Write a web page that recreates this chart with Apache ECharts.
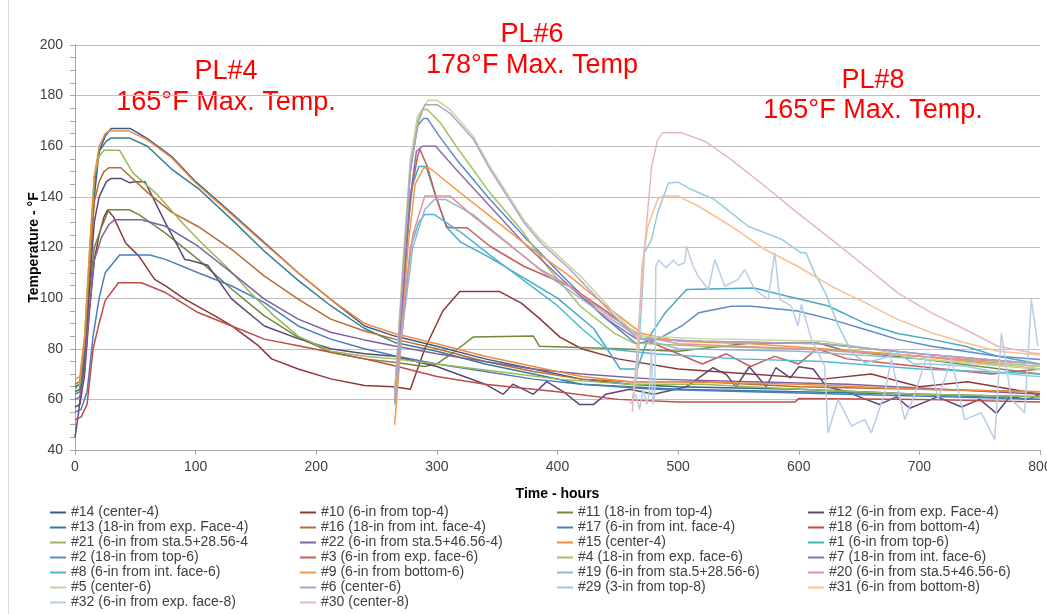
<!DOCTYPE html>
<html><head><meta charset="utf-8">
<script src="https://cdn.jsdelivr.net/npm/echarts@6/dist/echarts.min.js"></script>
<style>html,body{margin:0;padding:0;background:#fff}#c{width:1047px;height:614px}</style>
</head><body><div id="c"></div>
<script>
// ---- series names in legend order ----
const names = ["#14 (center-4)","#10 (6-in from top-4)","#11 (18-in from top-4)","#12 (6-in from exp. Face-4)",
"#13 (18-in from exp. Face-4)","#16 (18-in from int. face-4)","#17 (6-in from int. face-4)","#18 (6-in from bottom-4)",
"#21 (6-in from sta.5+28.56-4","#22 (6-in from sta.5+46.56-4)","#15 (center-4)","#1 (6-in from top-6)",
"#2 (18-in from top-6)","#3 (6-in from exp. face-6)","#4 (18-in from exp. face-6)","#7 (18-in from int. face-6)",
"#8 (6-in from int. face-6)","#9 (6-in from bottom-6)","#19 (6-in from sta.5+28.56-6)","#20 (6-in from sta.5+46.56-6)",
"#5 (center-6)","#6 (center-6)","#29 (3-in from top-8)","#31 (6-in from bottom-8)","#32 (6-in from exp. face-8)","#30 (center-8)"];

// ---- series values [hours, °F] ----
const s14 = [[0,65],[4,66],[8,80],[12,110],[16,140],[20,158],[25,164],[30,167],[46,167],[60,163],[80,156],[100,146],[130,133.5],[157,122],[185,110],[212,99.5],[240,89],[265,85],[300,81],[340,76],[380,72],[420,68],[460,66],[500,65],[600,64],[700,62],[800,61]];
const s10 = [[0,57],[4,58],[8,70],[12,95],[16,115],[20,125],[24,132],[27,134.9],[32,132],[42,121.8],[53,116.6],[66,107.4],[75,104.8],[91,99.6],[116,93],[130,89],[152,81.2],[163,76],[185,72],[212,68.1],[240,65.5],[264,65],[278,64],[290,80],[305,95],[319,102.6],[352,102.6],[370,98],[385,92],[402,84.6],[420,80],[450,76],[500,72],[560,70],[620,68],[660,70],[700,65],[740,67],[800,62]];
const s11 = [[0,62],[4,63],[8,78],[12,102],[16,120],[22,128],[28,134.9],[45,134.9],[53,133],[75,125.7],[102,115.3],[130,103.5],[157,93],[185,84.5],[212,78.6],[240,76],[264,74.7],[290,73],[300,74],[315,79],[330,84.6],[380,85],[385,81],[450,80],[500,79],[560,82.3],[616,82.3],[640,79],[700,76],[800,70]];
const s12 = [[0,45],[3,55],[8,75],[12,105],[16,130],[20,140],[26,146],[30,147.3],[38,147.3],[45,145.6],[50,146],[58,146],[75,129.7],[91,115.3],[95,115],[110,113],[130,99.6],[157,89],[185,84],[212,80],[240,78],[265,77],[300,73],[340,66],[355,62],[363,66],[380,62],[391,67],[405,63],[418,58],[430,58],[440,62],[460,64],[480,62],[507,65],[529,72.5],[540,69.8],[548,65],[559,72.9],[573,65],[581,72.5],[593,68.5],[600,72.9],[612,72],[623,65],[640,63],[653,60.5],[667,58],[681,61],[692,56.5],[715,61],[735,57],[750,60],[764,54.5],[775,61],[790,60],[800,62]];
const s13 = [[0,63],[4,64],[8,80],[12,112],[16,145],[20,158],[26,162],[30,163.3],[45,163.3],[60,160],[80,151],[102,143.4],[130,131],[157,118.5],[185,107],[212,97],[240,88],[265,82.5],[300,79],[340,74],[380,70],[420,66],[500,64],[600,63],[700,62],[800,60]];
const s16 = [[0,66],[4,67],[8,82],[12,112],[16,138],[20,146],[24,150],[28,151.5],[38,151.5],[61,141.4],[80,134],[102,128.3],[130,119.2],[157,108.7],[185,99.6],[212,91.7],[240,87],[265,83.8],[300,80],[340,75],[380,71],[420,68],[460,67],[520,67],[600,65],[700,64],[800,63]];
const s17 = [[0,55],[5,56],[10,63],[15,85],[20,100],[25,110],[37,117],[62,117],[75,115.3],[102,110],[130,104.8],[157,98.2],[185,89],[212,83.8],[240,80],[264,77.3],[300,74],[340,71],[380,68],[420,66],[480,64],[560,63],[640,62],[720,61],[800,60]];
const s18 = [[0,52],[5,53],[10,58],[15,80],[20,90],[25,99],[36,106.1],[55,106.1],[75,102.2],[102,94.3],[130,89],[157,83.8],[185,81.2],[212,78.6],[240,76],[264,73.4],[300,69],[340,66],[400,63],[450,60],[500,59],[597,59],[600,60.3],[700,60],[800,59]];
const s21 = [[0,64],[4,66],[8,85],[12,118],[16,148],[20,156],[24,158.4],[37,158.4],[48,149.5],[68,141],[90,129.2],[106,121.3],[126,112.2],[145,102.3],[165,93],[185,85],[212,79],[240,77],[265,76],[300,74],[350,71],[400,68],[460,66],[520,66],[600,64],[700,62],[800,61]];
const s22 = [[0,60],[4,61],[8,72],[12,96],[16,115],[22,124],[28,129],[33,131],[55,131],[75,128.4],[102,120.5],[130,110],[157,99.6],[185,91.7],[212,86.5],[240,83.5],[264,81.2],[300,78],[340,75],[380,72],[420,70],[480,68],[560,67],[640,66],[720,64],[800,62]];
const s15 = [[0,68],[4,69],[8,85],[12,118],[16,148],[20,160],[25,165],[28,166],[45,166],[60,162.5],[80,155.5],[100,145.5],[130,133],[157,121.5],[185,110],[212,99.5],[240,90],[265,86],[300,82],[340,77],[380,73],[420,69],[460,67],[500,67],[600,66],[700,64],[800,63]];
const s1 = [[265,58],[270,85],[275,125],[280,145],[285,152],[291,152],[300,139],[308,128],[320,122],[344,116],[372,108],[400,100],[430,88],[452,72],[466,72],[475,84],[489,94],[507,103.4],[563,104],[588,101],[624,97],[655,90],[682,86],[710,83.7],[738,81],[765,77],[800,74]];
const s2 = [[265,62],[272,110],[278,150],[284,168],[289,171],[292,171],[302,164],[316,155],[344,139],[372,124.5],[410,106],[440,92],[465,82],[483,83.7],[503,89],[517,94.2],[544,96.8],[561,96.8],[599,94.9],[627,91.6],[655,87.6],[682,83.7],[710,81],[765,77],[800,75.8]];
const s3 = [[265,60],[272,100],[278,140],[284,156],[286,158.7],[292,152],[300,139],[308,128.4],[311,127.8],[325,127.8],[344,120.5],[372,112.6],[410,104.7],[440,95],[470,84],[500,78],[520,74],[540,78],[560,73],[580,77],[600,74],[615,80],[640,76],[680,74],[720,72],[760,70],[800,72]];
const s4 = [[265,62],[272,110],[278,150],[284,170],[288,174.5],[292,174.5],[303,169.2],[316,160],[330,150.8],[344,141.6],[358,133.7],[372,125.8],[391,112.7],[419,96.8],[447,86.2],[463,82.3],[520,81],[600,80],[650,79],[700,77],[800,73]];
const s7 = [[265,60],[272,100],[278,140],[283,158],[288,160],[299,160],[316,150.8],[344,136.3],[372,121.8],[410,104.7],[440,92],[465,84],[520,83],[620,82],[660,80],[700,78],[800,74]];
const s8 = [[265,60],[272,90],[278,120],[285,130],[290,133],[298,133],[320,126],[344,117],[372,107],[400,97],[420,88],[440,80],[480,78],[550,76],[620,75],[700,72],[800,70]];
const s9 = [[265,50],[270,80],[276,120],[282,145],[289,151.4],[294,151.4],[316,142.9],[344,132.4],[372,121.8],[410,108.7],[440,97],[470,86],[500,83],[560,82],[620,80],[700,77],[800,72]];
const s19 = [[265,58],[272,90],[280,120],[290,135],[298,139],[307,139],[330,133],[358,122],[386,111],[410,103],[440,93],[470,84],[500,80],[600,79],[700,76],[800,72]];
const s20 = [[265,60],[272,95],[280,125],[290,140.3],[311,140.3],[330,132.4],[358,121.8],[386,111.3],[410,104.7],[440,94],[470,85],[500,82],[600,80],[700,77],[800,74]];
const s5 = [[265,62],[272,115],[278,155],[284,172],[293,178.2],[300,178.2],[311,174.5],[330,164],[344,152],[358,141.6],[372,131],[386,123.2],[410,112.6],[419,108.7],[447,94.2],[466,85],[520,84],[620,83],[660,80],[700,76],[800,72]];
const s6 = [[265,60],[272,112],[278,152],[285,170],[290,176.4],[300,176.4],[311,173],[330,163],[344,151],[358,140.5],[372,130],[386,122],[410,111.5],[447,93],[466,84],[520,83],[620,82],[700,78],[800,74]];
const s29 = [[462,60],[466,70],[470,99.5],[472,118],[478,123.2],[483,133.7],[492,145.5],[500,145.8],[511,142.9],[530,139],[558,128.4],[586,123.2],[602,117.9],[606,117.9],[613,110],[622,102.1],[633,89],[644,78.4],[655,74.5],[668,76],[682,78.4],[695,74],[710,74],[738,73.2],[765,70.5],[793,69.2],[800,69]];
const s31 = [[462,58],[466,75],[470,112.6],[475,128.4],[483,139],[487,140.3],[500,140.3],[517,136.3],[544,128.4],[572,119.2],[599,112.6],[627,104.7],[655,98.2],[682,91.6],[710,86.3],[738,82.4],[765,79],[793,77.8],[800,77.5]];
const s32 = [[460,58],[465,62],[468,56],[471,64],[474,58],[476,62],[478,80],[479,58],[480.7,62],[481.5,112.6],[484,115],[490,112],[496,115],[500,113],[505.5,114],[507,120.5],[512,113],[516.6,108.7],[525,103.4],[530.4,115.3],[538.7,104.7],[549.7,107.4],[555.2,111.3],[563.5,103.4],[574.6,99.5],[580.1,118],[584.3,99.5],[593.9,96.8],[599.4,89],[602.2,97.5],[610.5,83.7],[621.5,73.2],[624.3,46.8],[632.6,60],[643.6,49.5],[654.7,52],[660.2,46.8],[671.3,62.6],[676.8,76],[687.8,52],[696.1,62],[707.2,78.4],[715.5,60],[726.5,76],[737.6,52],[751.4,54.7],[762.4,44.2],[768,86.3],[776.2,60],[787.3,54.7],[792.8,99.5],[798.3,81]];
const s30 = [[462,55],[467,86.3],[472,119.2],[478,152],[483,162.6],[487,165.3],[503,165.3],[522,162],[544,154.7],[572,144.2],[599,133.7],[627,123.2],[655,112.6],[682,102.1],[710,94.2],[738,87.6],[765,81],[793,78.4],[800,78]];

const seriesData = [s14,s10,s11,s12,s13,s16,s17,s18,s21,s22,s15,s1,s2,s3,s4,s7,s8,s9,s19,s20,s5,s6,s29,s31,s32,s30];
const colors = ["#385d8a","#8c3836","#71893f","#5c4776","#357d91","#b66d31","#4a7ebb","#be4b48","#98b954","#7d60a0","#ee8d3e",
"#46aac5","#5b8bc9","#c65c5a","#a5c264","#8a6fb0","#4fb8d4","#f79646","#95b3d7","#d99694","#c3d69b","#b3a2c7","#93cddd","#fac090","#b9cde5","#e6b9b8"];

// ---- axis ticks ----
const xMin = 0, xMax = 800, xStep = 100;
const yMin = 40, yMax = 200, yStep = 20;

const FONT = "Liberation Sans, Arial, sans-serif";
const chart = echarts.init(document.getElementById('c'), null, {renderer:'canvas'});

const cols = [[],[],[],[]];
names.forEach((n,i)=>cols[i%4].push(n));
const colLeft = [50,300,557,808];
const legends = cols.map((d,i)=>({
  orient:'vertical', left: colLeft[i], top: 505, padding:0, itemGap:0,
  itemWidth:16, itemHeight:2, icon:'rect', selectedMode:false, data:d,
  textStyle:{fontSize:14, lineHeight:15, color:'#404040', fontFamily:FONT}
}));

chart.setOption({
  animation:false,
  backgroundColor:'#fff',
  color: colors,
  grid:{left:75, right:7, top:45, bottom:164, containLabel:false, outerBoundsMode:'none'},
  legend: legends,
  xAxis:{type:'value', min:xMin, max:xMax, interval:xStep,
    name:'Time - hours', nameLocation:'middle', nameGap:37,
    nameTextStyle:{fontWeight:'bold', fontSize:14, color:'#000', fontFamily:FONT},
    axisLine:{show:true, lineStyle:{color:'#a6a6a6', width:1}},
    axisTick:{show:true, length:5, lineStyle:{color:'#a6a6a6'}},
    axisLabel:{fontSize:14, color:'#404040', margin:10, fontFamily:FONT, hideOverlap:false},
    splitLine:{show:false}},
  yAxis:{type:'value', min:yMin, max:yMax, interval:yStep,
    name:'Temperature - °F', nameLocation:'middle', nameGap:34, nameRotate:90, nameMoveOverlap:false,
    nameTextStyle:{fontWeight:'bold', fontSize:14, color:'#000', fontFamily:FONT},
    axisLine:{show:true, lineStyle:{color:'#a6a6a6', width:1}},
    axisTick:{show:true, length:5, lineStyle:{color:'#a6a6a6'}},
    minorTick:{show:true, splitNumber:4, length:5, lineStyle:{color:'#a6a6a6'}},
    axisLabel:{fontSize:14, color:'#404040', margin:12, fontFamily:FONT},
    splitLine:{show:true, lineStyle:{color:'#bfbfbf', width:1}}},
  graphic:[
    {type:'line', shape:{x1:8.5,y1:0,x2:8.5,y2:614}, style:{stroke:'#d9d9d9', lineWidth:1}, silent:true},
    {type:'text', style:{text:'PL#4\n165°F Max. Temp.', x:226, y:56, align:'center', verticalAlign:'top', fontSize:27, fontFamily:FONT, fill:'#ff0000', lineHeight:31}},
    {type:'text', style:{text:'PL#6\n178°F Max. Temp', x:532, y:19, align:'center', verticalAlign:'top', fontSize:27, fontFamily:FONT, fill:'#ff0000', lineHeight:31}},
    {type:'text', style:{text:'PL#8\n165°F Max. Temp.', x:873, y:66, align:'center', verticalAlign:'top', fontSize:27, fontFamily:FONT, fill:'#ff0000', lineHeight:30}}
  ],
  series: seriesData.map((d,i)=>({
    name:names[i], type:'line', data:d, showSymbol:false, symbol:'none',
    lineStyle:{width:1.5, color:colors[i]}, itemStyle:{color:colors[i]}, clip:true
  }))
});
</script></body></html>
